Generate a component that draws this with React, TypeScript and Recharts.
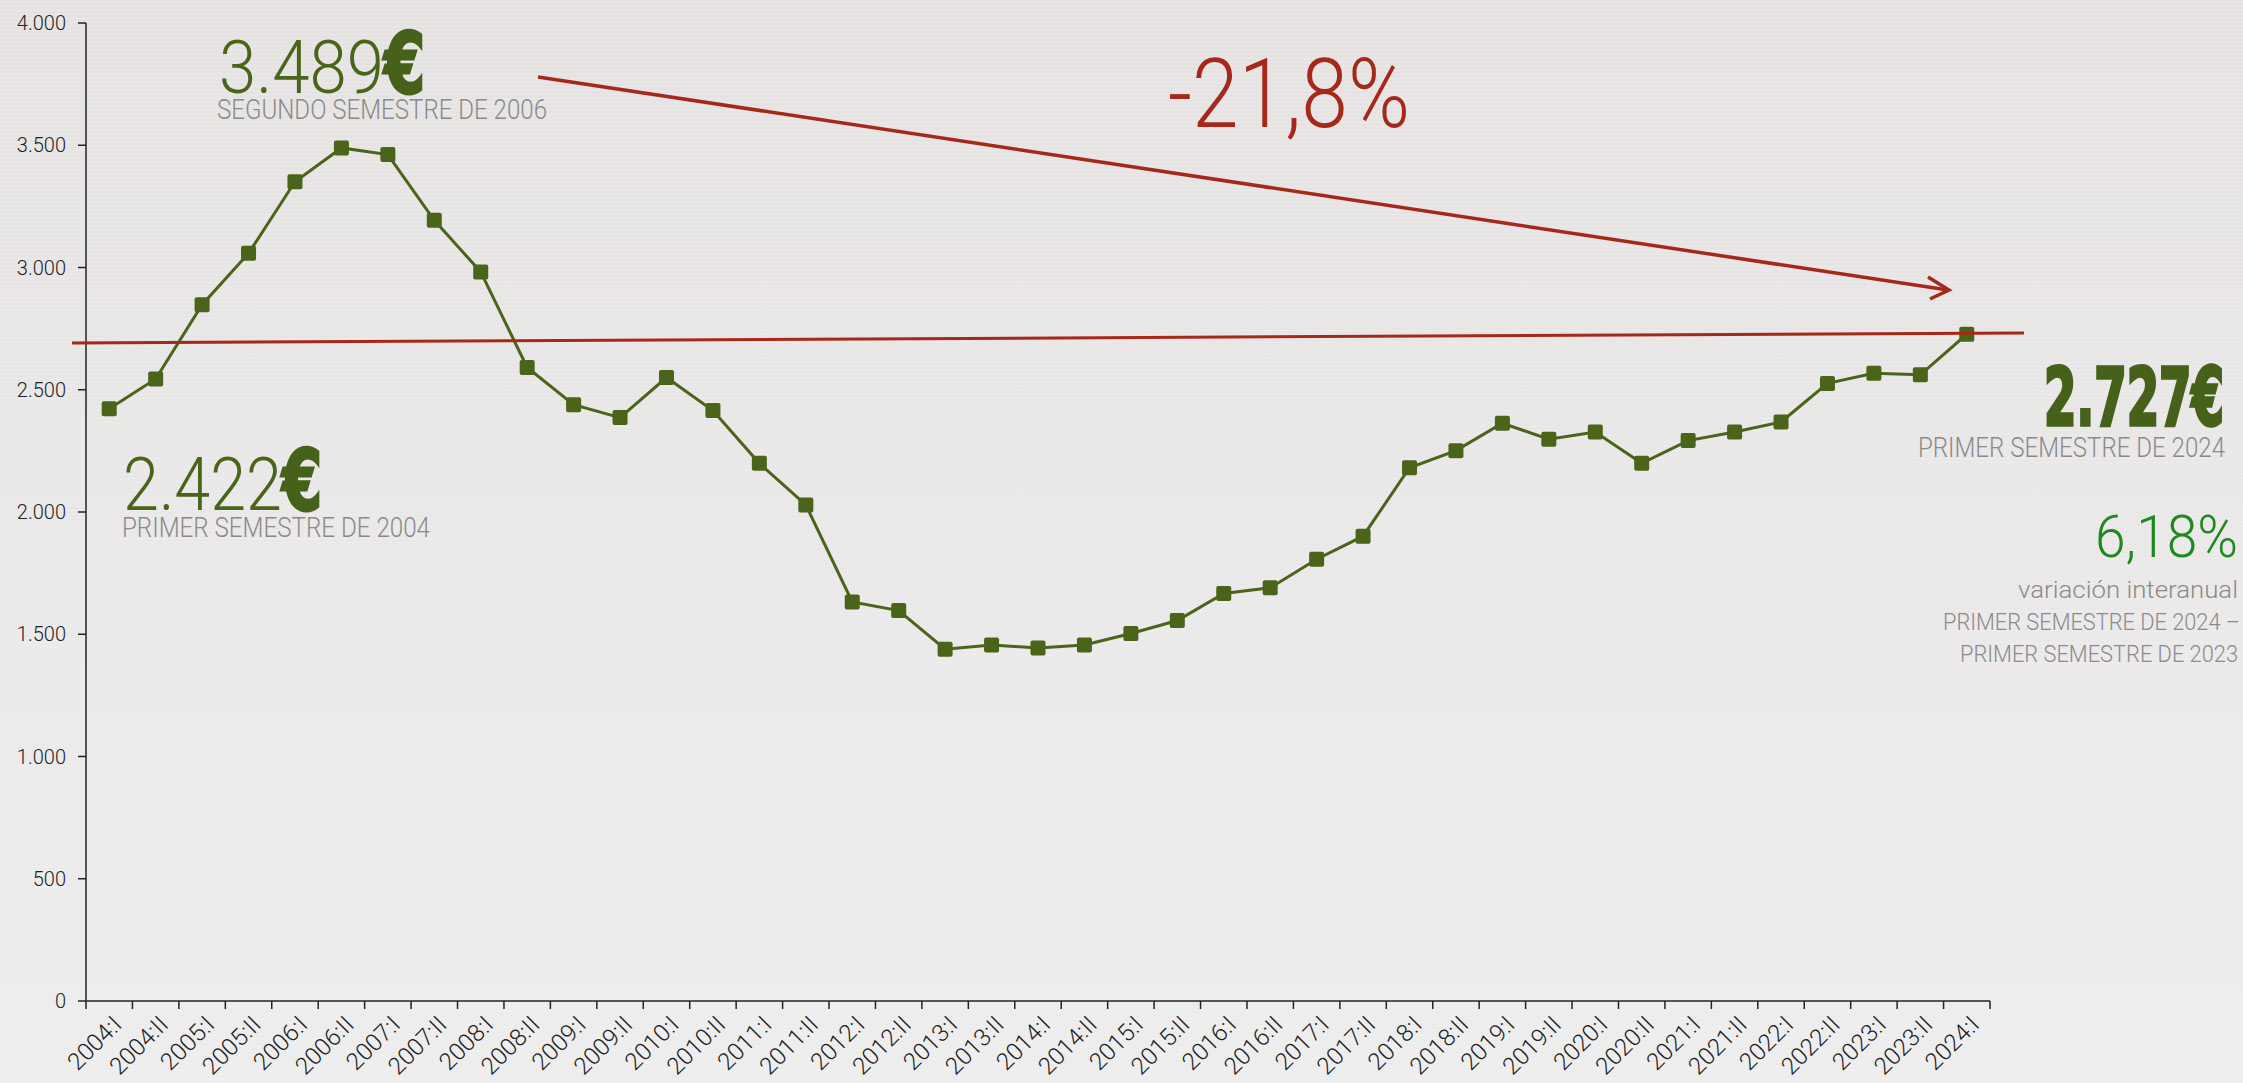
import { LineChart, Line, XAxis, YAxis } from 'recharts';

const periods = [
    '2004:I', '2004:II', '2005:I', '2005:II', '2006:I', '2006:II', '2007:I', '2007:II',
    '2008:I', '2008:II', '2009:I', '2009:II', '2010:I', '2010:II', '2011:I', '2011:II',
    '2012:I', '2012:II', '2013:I', '2013:II', '2014:I', '2014:II', '2015:I', '2015:II',
    '2016:I', '2016:II', '2017:I', '2017:II', '2018:I', '2018:II', '2019:I', '2019:II',
    '2020:I', '2020:II', '2021:I', '2021:II', '2022:I', '2022:II', '2023:I', '2023:II',
    '2024:I',
];

const prices = [
    2422, 2544, 2848, 3058, 3351, 3489, 3462, 3193,
    2982, 2591, 2439, 2386, 2550, 2415, 2199, 2029,
    1632, 1597, 1439, 1456, 1444, 1456, 1503, 1556,
    1667, 1690, 1807, 1901, 2181, 2251, 2363, 2298,
    2327, 2199, 2292, 2327, 2368, 2526, 2567, 2561,
    2727,
];

const yTicks = [0, 500, 1000, 1500, 2000, 2500, 3000, 3500, 4000];

const data = periods.map((p, i) => ({ period: p, price: prices[i] }));

const W = 2243;
const H = 1083;
const LEFT = 86;
const RIGHT = 253;
const STEP = (W - LEFT - RIGHT) / periods.length;

const GREEN = '#4a6419';
const DARK_GREEN = '#45611a';
const RED = '#a5281b';
const GREY = '#8a8a8a';
const LIGHT = "Roboto, 'Open Sans', sans-serif";
const NARROW = "'Liberation Sans Narrow', 'DejaVu Sans Condensed', sans-serif";

const fmt = (v: number) =>
    v >= 1000 ? `${Math.floor(v / 1000)}.${String(v % 1000).padStart(3, '0')}` : String(v);

function Square(props: any) {
    const { cx, cy, index } = props;
    if (cx == null || cy == null) return null;
    return <rect key={index} x={cx - 7.5} y={cy - 7.5} width={15} height={15} rx={2} fill={GREEN} />;
}

function PeriodTick(props: any) {
    const { x, y, payload, index } = props;
    const tx = x + 14;
    const ty = y + 25;
    return (
        <g>
            <line x1={x - STEP / 2} x2={x - STEP / 2} y1={y} y2={y + 8} stroke="#222" strokeWidth={1.5} />
            {index === periods.length - 1 && (
                <line x1={x + STEP / 2} x2={x + STEP / 2} y1={y} y2={y + 8} stroke="#222" strokeWidth={1.5} />
            )}
            <text x={tx} y={ty} transform={`rotate(-45, ${tx}, ${ty})`} textAnchor="end"
                fontSize={24} fontWeight={300} fontFamily={LIGHT} fill="#222">
                {payload.value}
            </text>
        </g>
    );
}

export default function App() {
    return (
        <div style={{
            position: 'absolute', left: 0, top: 0, width: W, height: H, overflow: 'hidden',
            background: 'repeating-linear-gradient(0deg, rgba(255,255,255,0.18) 0px, rgba(255,255,255,0.18) 1px, rgba(0,0,0,0) 1px, rgba(0,0,0,0) 4px), linear-gradient(to bottom, #e6e2e2, #eeedee)',
        }}>
            <LineChart width={W} height={H} data={data} margin={{ top: 23, right: RIGHT, left: 0, bottom: 0 }}>
                <XAxis dataKey="period" height={82} interval={0} tickSize={0} tickMargin={0}
                    padding={{ left: STEP / 2, right: STEP / 2 }}
                    axisLine={{ stroke: '#222', strokeWidth: 1.5 }} tick={<PeriodTick />} />
                <YAxis domain={[0, 4000]} ticks={yTicks} width={LEFT} tickSize={8} tickMargin={12}
                    tickFormatter={fmt} axisLine={{ stroke: '#222', strokeWidth: 1.5 }}
                    tickLine={{ stroke: '#222', strokeWidth: 1.5 }}
                    tick={{ fontSize: 20, fontWeight: 300, fontFamily: LIGHT, fill: '#222' }} />
                <Line type="linear" dataKey="price" stroke={GREEN} strokeWidth={3}
                    dot={<Square />} activeDot={false} isAnimationActive={false} />
            </LineChart>
            <svg width={W} height={H} style={{ position: 'absolute', left: 0, top: 0, pointerEvents: 'none' }}>
                {/* reference line and trend arrow */}
                <line x1={72} y1={343} x2={2024} y2={333} stroke={RED} strokeWidth={3} />
                <line x1={538} y1={77} x2={1948} y2={290} stroke={RED} strokeWidth={3.5} />
                <polyline points="1928,277 1949,290 1930,299" fill="none" stroke={RED} strokeWidth={3.5} />
                <text x={1168} y={127} fontSize={97} fontWeight={300} fontFamily={LIGHT} fill={RED}
                    textLength={242} lengthAdjust="spacingAndGlyphs">-21,8%</text>

                {/* maximum */}
                <text x={219} y={93} fontSize={75} fontWeight={300} fontFamily={LIGHT} fill={GREEN}
                    textLength={165} lengthAdjust="spacingAndGlyphs">3.489</text>
                <text x={384} y={93} fontSize={84} fontWeight={700} fontFamily={NARROW} fill={DARK_GREEN}
                    stroke={DARK_GREEN} strokeWidth={3} textLength={41} lengthAdjust="spacingAndGlyphs">€</text>
                <text x={217} y={119} fontSize={27} fontWeight={300} fontFamily={LIGHT} fill={GREY}
                    textLength={330} lengthAdjust="spacingAndGlyphs">SEGUNDO SEMESTRE DE 2006</text>

                {/* start */}
                <text x={123} y={510} fontSize={75} fontWeight={300} fontFamily={LIGHT} fill={GREEN}
                    textLength={159} lengthAdjust="spacingAndGlyphs">2.422</text>
                <text x={282} y={510} fontSize={84} fontWeight={700} fontFamily={NARROW} fill={DARK_GREEN}
                    stroke={DARK_GREEN} strokeWidth={3} textLength={40} lengthAdjust="spacingAndGlyphs">€</text>
                <text x={122} y={537} fontSize={27} fontWeight={300} fontFamily={LIGHT} fill={GREY}
                    textLength={308} lengthAdjust="spacingAndGlyphs">PRIMER SEMESTRE DE 2004</text>

                {/* latest */}
                <text x={2224} y={425} textAnchor="end" fontSize={81} fontWeight={700} fontFamily={NARROW}
                    fill={DARK_GREEN} stroke={DARK_GREEN} strokeWidth={3.5} textLength={180}
                    lengthAdjust="spacingAndGlyphs">2.727€</text>
                <text x={2225} y={457} textAnchor="end" fontSize={27} fontWeight={300} fontFamily={LIGHT}
                    fill={GREY} textLength={307} lengthAdjust="spacingAndGlyphs">PRIMER SEMESTRE DE 2024</text>

                {/* year-on-year */}
                <text x={2238} y={557} textAnchor="end" fontSize={59} fontWeight={300} fontFamily={LIGHT}
                    fill="#1e8a1e" textLength={143} lengthAdjust="spacingAndGlyphs">6,18%</text>
                <text x={2238} y={598} textAnchor="end" fontSize={23} fontWeight={300} fontFamily={LIGHT}
                    fill={GREY} textLength={220} lengthAdjust="spacingAndGlyphs">variación interanual</text>
                <text x={2240} y={630} textAnchor="end" fontSize={24} fontWeight={300} fontFamily={LIGHT}
                    fill={GREY} textLength={297} lengthAdjust="spacingAndGlyphs">PRIMER SEMESTRE DE 2024 –</text>
                <text x={2238} y={662} textAnchor="end" fontSize={24} fontWeight={300} fontFamily={LIGHT}
                    fill={GREY} textLength={278} lengthAdjust="spacingAndGlyphs">PRIMER SEMESTRE DE 2023</text>
            </svg>
        </div>
    );
}
